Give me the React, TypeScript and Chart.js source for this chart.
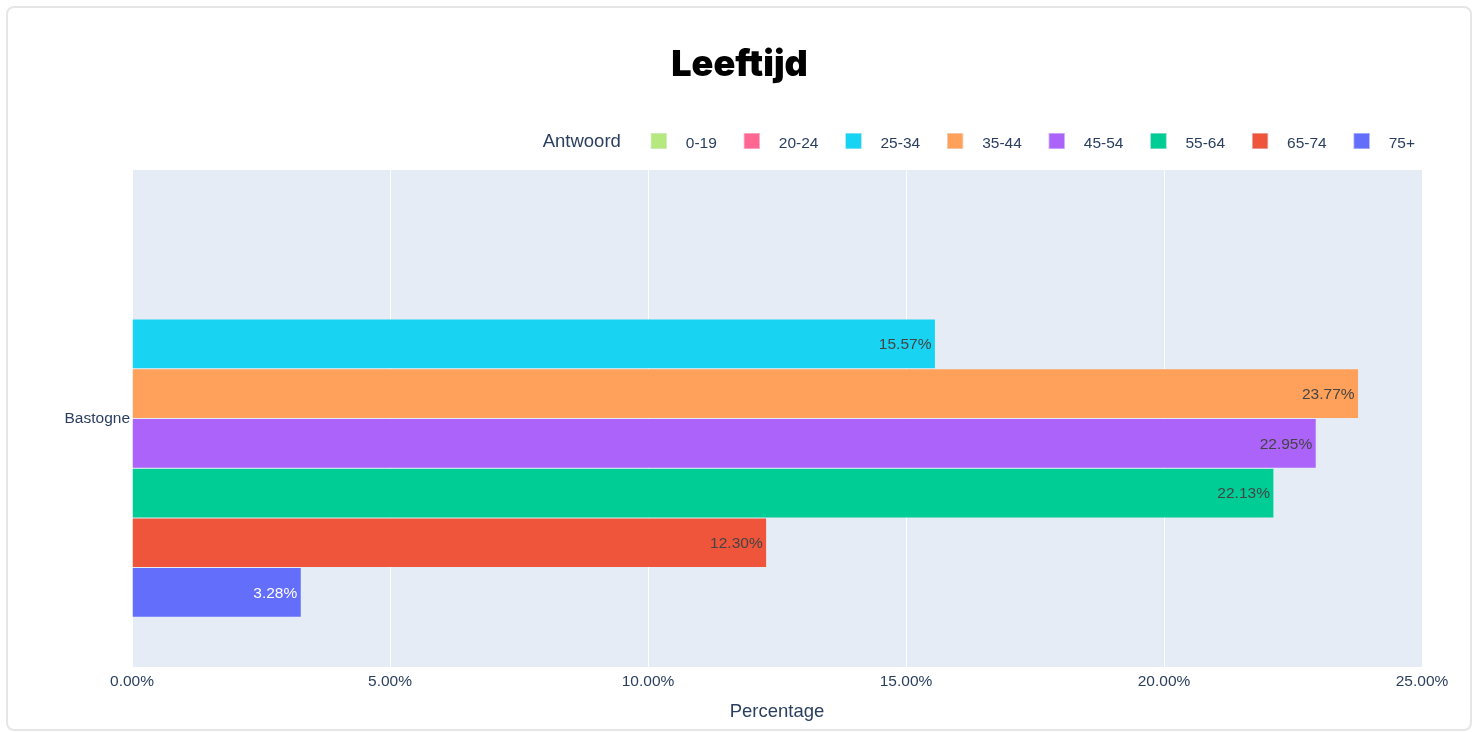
import React, { useEffect, useRef } from 'react';
import { Chart, registerables } from 'chart.js';

Chart.register(...registerables);

const chartTitle = 'Leeftijd';
const legendTitle = 'Antwoord';
const axisTitle = 'Percentage';
const categories = ['Bastogne'];
const seriesNames = ['0-19', '20-24', '25-34', '35-44', '45-54', '55-64', '65-74', '75+'];
const seriesColors = ['#B6E880', '#FF6692', '#19D3F3', '#FFA15A', '#AB63FA', '#00CC96', '#EF553B', '#636EFA'];
const seriesValues: (number | null)[] = [null, null, 15.57, 23.77, 22.95, 22.13, 12.3, 3.28];
const labelColors = ['#444444', '#444444', '#444444', '#444444', '#444444', '#444444', '#444444', '#ffffff'];
const xTickValues = [0, 5, 10, 15, 20, 25];

const FONT = '"Liberation Sans", Arial, sans-serif';
const TEXT = '#2a3f5f';

const bgPlugin = {
  id: 'plotBg',
  beforeDraw(chart: any) {
    const { ctx, chartArea } = chart;
    ctx.save();
    ctx.fillStyle = '#E5ECF6';
    ctx.fillRect(chartArea.left, chartArea.top, chartArea.right - chartArea.left + 1, chartArea.bottom - chartArea.top);
    ctx.restore();
  },
};

const labelPlugin = {
  id: 'barLabels',
  afterDatasetsDraw(chart: any) {
    const { ctx } = chart;
    ctx.save();
    ctx.font = `15.5px ${FONT}`;
    ctx.textAlign = 'right';
    ctx.textBaseline = 'middle';
    chart.data.datasets.forEach((ds: any, i: number) => {
      const meta = chart.getDatasetMeta(i);
      meta.data.forEach((el: any, j: number) => {
        const v = ds.data[j];
        if (v === null || v === undefined) return;
        ctx.fillStyle = labelColors[i];
        ctx.fillText(v.toFixed(2) + '%', el.x - 4, el.y + 1);
      });
    });
    ctx.restore();
  },
};

const headerPlugin = {
  id: 'header',
  afterDraw(chart: any) {
    const { ctx } = chart;
    ctx.save();
    // Title
    ctx.fillStyle = '#000000';
    ctx.font = `900 36px Inter, "DejaVu Sans", sans-serif`;
    ctx.textAlign = 'center';
    ctx.textBaseline = 'alphabetic';
    ctx.fillText(chartTitle, 739.5, 76);

    // Legend
    ctx.font = `15.5px ${FONT}`;
    const widths = seriesNames.map((n) => ctx.measureText(n).width);
    const total = widths.reduce((a, w) => a + 16 + 19 + w, 0) + 27 * (seriesNames.length - 1);
    let x = 1415 - total;
    ctx.font = `18.5px ${FONT}`;
    ctx.fillStyle = TEXT;
    ctx.textAlign = 'right';
    ctx.fillText(legendTitle, x - 30, 147);
    ctx.font = `15.5px ${FONT}`;
    ctx.textAlign = 'left';
    seriesNames.forEach((n, i) => {
      ctx.fillStyle = seriesColors[i];
      ctx.fillRect(x, 133, 16, 16);
      ctx.strokeStyle = 'rgba(229,236,246,0.9)';
      ctx.lineWidth = 0.5;
      ctx.strokeRect(x + 0.25, 133.25, 15.5, 15.5);
      ctx.fillStyle = TEXT;
      ctx.fillText(n, x + 35, 148);
      x += 16 + 19 + widths[i] + 27;
    });
    ctx.restore();
  },
};

export default function App() {
  const ref = useRef<HTMLCanvasElement | null>(null);

  useEffect(() => {
    if (!ref.current) return;
    const chart = new Chart(ref.current, {
      type: 'bar',
      data: {
        labels: categories,
        datasets: seriesNames.map((name, i) => ({
          label: name,
          data: [seriesValues[i]],
          backgroundColor: seriesColors[i],
          borderColor: 'rgba(229,236,246,0.9)',
          borderWidth: 0.5,
          categoryPercentage: 0.8,
          barPercentage: 1.0,
        })),
      },
      options: {
        indexAxis: 'y',
        responsive: false,
        animation: false,
        layout: { padding: { top: 170, left: 0, right: 57, bottom: 0 } },
        plugins: {
          legend: { display: false },
          title: { display: false },
          tooltip: { enabled: false },
        },
        scales: {
          x: {
            type: 'linear',
            min: 0,
            max: 25,
            afterBuildTicks: (scale: any) => {
              scale.ticks = xTickValues.map((v) => ({ value: v }));
            },
            afterFit: (scale: any) => {
              scale.height = 65;
            },
            grid: { color: '#ffffff', lineWidth: 1, drawTicks: false },
            border: { display: false },
            ticks: {
              color: TEXT,
              font: { family: FONT, size: 15.5 },
              padding: 5,
              maxRotation: 0,
              callback: (v: any) => Number(v).toFixed(2) + '%',
            },
            title: {
              display: true,
              text: axisTitle,
              color: TEXT,
              font: { family: FONT, size: 18.5 },
              padding: { top: 0, bottom: 9 },
            },
          },
          y: {
            type: 'category',
            afterFit: (scale: any) => {
              scale.width = 132;
            },
            grid: { display: false, drawTicks: false },
            border: { display: false },
            ticks: {
              color: TEXT,
              font: { family: FONT, size: 15.5 },
              padding: 2,
            },
          },
        },
      },
      plugins: [bgPlugin, labelPlugin, headerPlugin],
    });
    return () => chart.destroy();
  }, []);

  return (
    <div style={{ position: 'absolute', left: 0, top: 0, width: 1479, height: 732, overflow: 'hidden', background: '#fff' }}>
      <div
        style={{
          position: 'absolute',
          left: 6,
          top: 6,
          width: 1466,
          height: 725,
          border: '2px solid #e6e6e6',
          borderRadius: 8,
          boxSizing: 'border-box',
        }}
      />
      <canvas ref={ref} width={1479} height={732} style={{ position: 'absolute', left: 0, top: 0, width: 1479, height: 732 }} />
    </div>
  );
}
